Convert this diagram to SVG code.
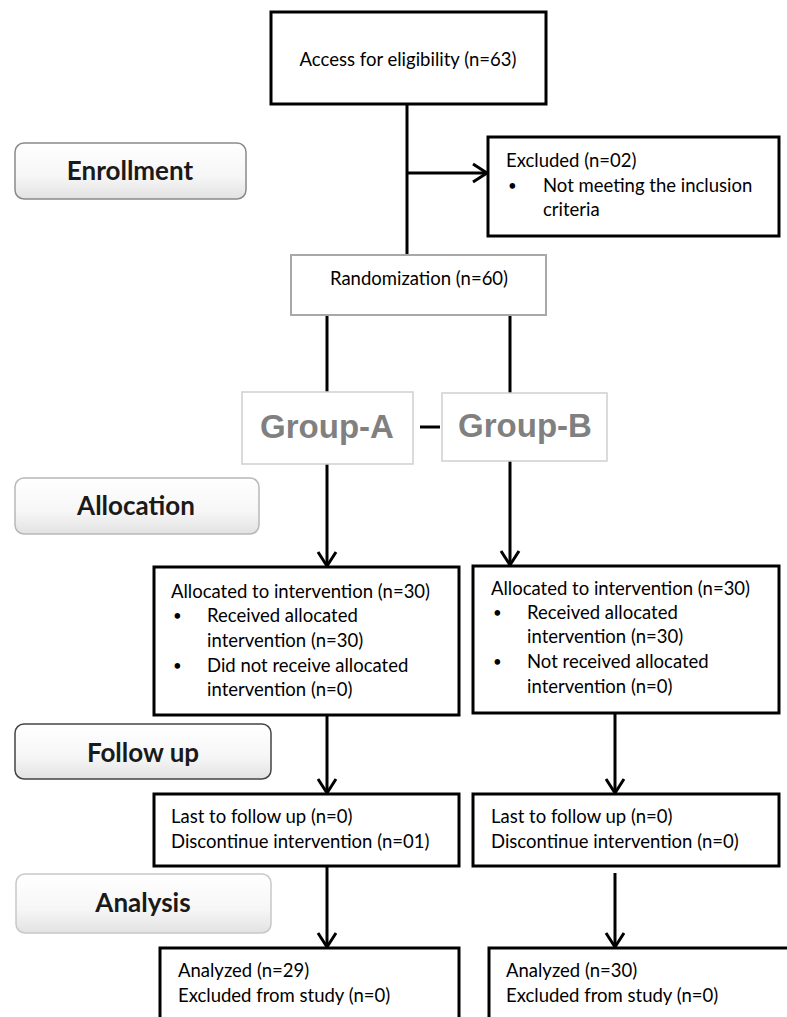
<svg xmlns="http://www.w3.org/2000/svg" width="787" height="1017" viewBox="0 0 787 1017">
<style>
.box{fill:#fff;stroke:#000;stroke-width:3}
.t{font-family:Lato,"Liberation Sans",sans-serif;font-size:18.5px;fill:#000}
.b{font-family:Lato,"Liberation Sans",sans-serif;font-size:15px;fill:#000}
.c{text-anchor:middle}
.lab{font-family:Lato,"Liberation Sans",sans-serif;font-size:26px;font-weight:bold;fill:#1a1a1a;text-anchor:middle}
.grp{font-family:"Liberation Sans",Arial,sans-serif;font-size:33px;font-weight:bold;fill:#808080;text-anchor:middle}
.gbox{fill:#fff;stroke:#cfcfcf;stroke-width:1.5}
.ln{fill:none;stroke:#000;stroke-width:3}
.ar{fill:none;stroke:#000;stroke-width:3;marker-end:url(#arr)}
</style>
<defs>
<linearGradient id="lg" x1="0" y1="0" x2="0" y2="1">
<stop offset="0" stop-color="#ffffff"/>
<stop offset="0.6" stop-color="#f6f6f6"/>
<stop offset="1" stop-color="#e2e2e2"/>
</linearGradient>
<marker id="arr" markerUnits="userSpaceOnUse" markerWidth="24" markerHeight="24" viewBox="-16 -12 20 24" refX="0" refY="0" orient="auto">
<path d="M-14,-9 L0,0 L-14,9" fill="none" stroke="#000" stroke-width="3"/>
</marker>
</defs>
<rect width="787" height="1017" fill="#fff"/>

<g id="connectors">
<line class="ln" x1="407" y1="104" x2="407" y2="255"/>
<line class="ar" x1="407" y1="173" x2="487" y2="173"/>
<line class="ln" x1="327" y1="315" x2="327" y2="392"/>
<line class="ln" x1="510" y1="315" x2="510" y2="393"/>
<line class="ln" x1="420" y1="427" x2="440" y2="427"/>
<line class="ar" x1="327" y1="464" x2="327" y2="566"/>
<line class="ar" x1="510" y1="461" x2="510" y2="565"/>
<line class="ar" x1="327" y1="715" x2="327" y2="793"/>
<line class="ar" x1="615" y1="713" x2="615" y2="793"/>
<line class="ar" x1="327" y1="866" x2="327" y2="947"/>
<line class="ar" x1="615" y1="873" x2="615" y2="947"/>
</g>

<g id="label-enrollment">
<rect x="15" y="143" width="231" height="56" rx="9" fill="url(#lg)" stroke="#8a8a8a" stroke-width="1.5"/>
<text class="lab" x="130" y="180">Enrollment</text>
</g>
<g id="label-allocation">
<rect x="15" y="478" width="244" height="56" rx="9" fill="url(#lg)" stroke="#b8b8b8" stroke-width="1.5"/>
<text class="lab" x="136" y="515">Allocation</text>
</g>
<g id="label-followup">
<rect x="15" y="724" width="256" height="55" rx="9" fill="url(#lg)" stroke="#444" stroke-width="1.5"/>
<text class="lab" x="143" y="762">Follow up</text>
</g>
<g id="label-analysis">
<rect x="16" y="874" width="255" height="59" rx="9" fill="url(#lg)" stroke="#c8c8c8" stroke-width="1.5"/>
<text class="lab" x="143" y="912">Analysis</text>
</g>

<g id="node-eligibility">
<rect class="box" x="271" y="12" width="275" height="92"/>
<text class="t c" x="408" y="66">Access for eligibility (n=63)</text>
</g>
<g id="node-excluded">
<rect class="box" x="488" y="137" width="291" height="99"/>
<text class="t" x="506" y="167">Excluded (n=02)</text>
<text class="b" x="508" y="191">•</text>
<text class="t" x="543" y="192">Not meeting the inclusion</text>
<text class="t" x="543" y="216">criteria</text>
</g>
<g id="node-randomization">
<rect x="291" y="255" width="255" height="60" fill="#fff" stroke="#a8a8a8" stroke-width="2"/>
<text class="t c" x="419" y="285">Randomization (n=60)</text>
</g>
<g id="node-group-a">
<rect class="gbox" x="242" y="392" width="171" height="72"/>
<text class="grp" x="327" y="438">Group-A</text>
</g>
<g id="node-group-b">
<rect class="gbox" x="442" y="393" width="165" height="68"/>
<text class="grp" x="525" y="437">Group-B</text>
</g>
<g id="node-alloc-a">
<rect class="box" x="154" y="567" width="305" height="148"/>
<text class="t" x="171" y="598">Allocated to intervention (n=30)</text>
<text class="b" x="173" y="621">•</text>
<text class="t" x="207" y="622">Received allocated</text>
<text class="t" x="207" y="647">intervention (n=30)</text>
<text class="b" x="173" y="671">•</text>
<text class="t" x="207" y="672">Did not receive allocated</text>
<text class="t" x="207" y="696">intervention (n=0)</text>
</g>
<g id="node-alloc-b">
<rect class="box" x="473" y="566" width="306" height="147"/>
<text class="t" x="491" y="595">Allocated to intervention (n=30)</text>
<text class="b" x="493" y="618">•</text>
<text class="t" x="527" y="619">Received allocated</text>
<text class="t" x="527" y="643">intervention (n=30)</text>
<text class="b" x="493" y="667">•</text>
<text class="t" x="527" y="668">Not received allocated</text>
<text class="t" x="527" y="693">intervention (n=0)</text>
</g>
<g id="node-follow-a">
<rect class="box" x="154" y="794" width="305" height="72"/>
<text class="t" x="171" y="823">Last to follow up (n=0)</text>
<text class="t" x="171" y="848">Discontinue intervention (n=01)</text>
</g>
<g id="node-follow-b">
<rect class="box" x="473" y="794" width="306" height="72"/>
<text class="t" x="491" y="823">Last to follow up (n=0)</text>
<text class="t" x="491" y="848">Discontinue intervention (n=0)</text>
</g>
<g id="node-analysis-a">
<rect class="box" x="160" y="948" width="299" height="90"/>
<text class="t" x="178" y="977">Analyzed (n=29)</text>
<text class="t" x="178" y="1002">Excluded from study (n=0)</text>
</g>
<g id="node-analysis-b">
<rect class="box" x="489" y="948" width="310" height="90"/>
<text class="t" x="506" y="977">Analyzed (n=30)</text>
<text class="t" x="506" y="1002">Excluded from study (n=0)</text>
</g>
</svg>
